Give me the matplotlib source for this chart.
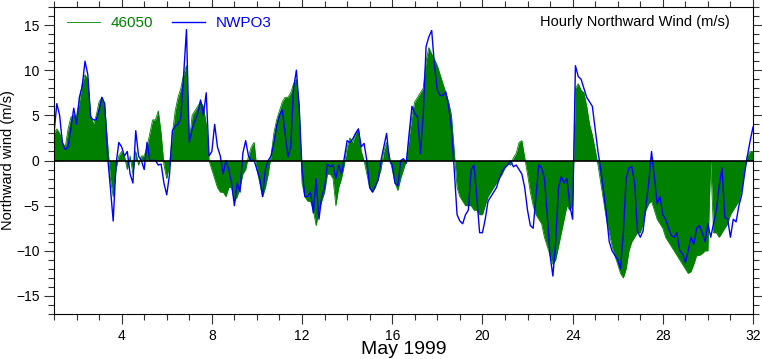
import numpy as np
import matplotlib
matplotlib.use("Agg")
import matplotlib.pyplot as plt
from matplotlib.ticker import MultipleLocator

plt.rcParams['font.family'] = ['Liberation Sans', 'DejaVu Sans']

# 3-hourly northward wind (m/s), May 1999
buoy_46050 = [
    3.0, 3.5, 3.0, 2.0, 1.5, 3.5, 4.8, 5.0,
    5.0, 6.5, 8.5, 9.5, 9.0, 5.0, 4.0, 5.0,
    6.5, 7.0, 6.0, 2.0, -2.0, -4.0, -1.0, 0.5,
    1.0, 0.5, -1.0, 0.5, -1.5, 1.0, -0.5, 0.5,
    0.5, 1.5, 3.0, 4.5, 4.5, 5.5, 3.0, -0.5,
    -2.0, -0.5, 3.0, 5.5, 7.0, 8.0, 9.5, 10.5,
    2.0, 5.0, 5.5, 6.0, 6.5, 6.0, 4.0, 0.0,
    -1.0, -2.0, -3.0, -3.5, -3.5, -4.0, -3.0, -3.0,
    -4.5, -4.0, -3.0, -1.5, -1.0, 0.5, 1.5, 2.0,
    -1.0, -2.5, -4.0, -3.0, -1.5, 0.5, 3.0, 4.5,
    5.5, 6.5, 7.0, 7.0, 7.5, 8.5, 9.0, 6.0,
    -2.5, -4.0, -4.5, -4.5, -5.5, -7.2, -5.5, -4.5,
    -3.5, -1.5, -1.5, -2.0, -5.0, -3.0, -2.0, -0.5,
    1.5, 2.5, 2.0, 3.0, 3.5, 1.0, 0.0, -1.5,
    -3.0, -3.5, -3.0, -2.0, -1.0, 1.0, 2.0, 0.5,
    -1.0, -2.5, -3.3, -2.0, -1.0, 0.0, 2.5, 5.0,
    6.5, 7.0, 7.5, 8.0, 11.0, 12.5, 11.8, 11.2,
    10.5, 9.5, 8.5, 7.5, 6.5, 5.0, 1.0, -3.0,
    -4.0, -4.5, -5.0, -5.0, -5.0, -5.5, -5.5, -6.0,
    -6.0, -5.0, -4.0, -3.5, -3.0, -2.5, -2.0, -1.5,
    -0.8, -0.4, -0.5, 0.3, 0.8, 2.0, 2.2, 0.3,
    -1.5, -3.5, -5.0, -6.0, -6.5, -7.0, -8.5, -9.5,
    -10.5, -11.5, -11.0, -9.5, -8.0, -6.5, -5.0, -5.5,
    -5.0, 8.0, 8.5, 7.8, 7.5, 6.0, 4.0, 2.8,
    1.2, -0.5, -2.5, -4.5, -6.5, -8.0, -9.5, -10.5,
    -11.5, -12.5, -13.0, -12.0, -10.0, -9.0, -8.5, -8.0,
    -8.0, -7.0, -5.5, -4.8, -4.5, -5.5, -6.5, -7.0,
    -7.5, -8.5, -9.0, -9.5, -10.0, -10.5, -11.0, -11.5,
    -12.0, -12.5, -12.3, -11.5, -10.5, -10.5, -10.3, -10.0,
    -10.0, 0.0, -8.0, -8.0, -8.5, -8.0, -7.5, -7.0,
    -6.0, -5.5, -5.0, -4.5, -3.0, -1.0, 0.5, 1.0, 1.0,
]

nwpo3 = [
    3.0, 6.3, 5.0, 1.9, 1.2, 1.5, 3.5, 5.8,
    4.0, 7.0, 8.2, 11.0, 9.5, 4.8, 4.5, 4.5,
    5.6, 7.0, 6.3, 0.5, -3.0, -6.7, -0.5, 2.0,
    1.5, 0.5, 1.0, -1.5, -2.5, 3.3, 0.5, 0.0,
    -1.0, 2.0, 0.0, 0.0, 0.0, -0.5, -0.4, -2.5,
    -3.8, -1.5, 3.3, 3.8, 4.0, 4.8, 9.5, 14.5,
    2.0, 3.5, 4.4, 5.2, 6.7, 5.0, 7.5, 0.5,
    1.0, 4.0, 1.5, 0.5, -1.5, 0.0, -1.0, -2.5,
    -5.0, -2.5, -3.5, 0.8, 2.2, 0.5, 0.0, 0.0,
    -1.0, -2.0, -4.0, -1.0, 0.0, 0.5, 1.9, 3.8,
    5.0, 5.6, 3.0, 0.4, 1.5, 8.0, 10.0, 5.9,
    -1.0, -4.0, -4.0, -3.5, -5.8, -2.0, -6.5, -4.0,
    -3.0, -0.4, -0.7, -0.5, -2.0, -0.5, -1.5, 0.3,
    2.2, 2.0, 2.4, 3.0, 3.5, 1.5, 1.9, 0.0,
    -3.0, -3.5, -2.8, -2.2, 0.0, 1.5, 3.0, 0.0,
    -0.5, -2.5, -2.8, 0.0, 0.2, -0.3, 3.0, 6.0,
    5.2, 4.8, 0.8, 5.0, 12.6, 13.7, 14.4, 10.5,
    7.8, 7.2, 7.2, 7.6, 6.0, 3.5, -1.0, -6.0,
    -6.7, -7.0, -6.0, -5.5, -1.0, -0.5, -4.0, -8.0,
    -8.0, -6.5, -4.5, -4.0, -3.5, -3.0, -2.0, -1.2,
    -0.8, -0.5, 0.0, -0.7, -0.5, -1.0, -1.5, -3.0,
    -5.5, -7.2, -7.5, -4.0, -0.5, -0.8, -2.0, -6.0,
    -10.5, -12.8, -9.0, -3.0, -1.8, -2.5, -2.0, -5.0,
    -6.5, 10.5, 9.3, 9.0, 8.0, 7.0, 6.5, 6.0,
    3.5, 1.0, -1.0, -3.5, -6.0, -9.0, -10.0, -10.5,
    -11.0, -12.0, -8.0, -2.0, -0.8, -0.7, -2.5, -7.8,
    -8.5, -7.8, -5.0, -2.5, 1.0, -1.8, -4.8, -4.0,
    -6.0, -6.5, -7.5, -8.3, -8.5, -8.0, -10.0, -10.3,
    -11.3, -10.0, -8.5, -9.3, -7.5, -7.2, -8.0, -9.0,
    -7.0, -8.5, -7.0, -5.5, -2.8, -0.8, -6.3, -6.5,
    -8.5, -6.5, -6.8, -5.0, -3.8, -1.5, 0.5, 2.2, 3.7,
]

day_ticks = [4, 8, 12, 16, 20, 24, 28, 32]
y_ticks = [-15, -10, -5, 0, 5, 10, 15]

# time axis in days of May, 3 h steps
t = 1 + np.arange(len(nwpo3)) * 3 / 24.0

fig = plt.figure(figsize=(7.62, 3.59), dpi=100)
ax = fig.add_axes([54 / 762, 1 - 314 / 359, 699 / 762, 307 / 359])

ax.fill_between(t, 0, buoy_46050, color="green", lw=0)
ax.plot(t, buoy_46050, color="green", lw=0.6, label="46050")
ax.plot(t, nwpo3, color="blue", lw=1.0, label="NWPO3")
ax.axhline(0, color="black", lw=1.2)

ax.set_xlim(1, 32)
ax.set_ylim(-17, 17)
ax.set_xticks(day_ticks)
ax.set_yticks(y_ticks)
ax.xaxis.set_minor_locator(MultipleLocator(1))
ax.yaxis.set_minor_locator(MultipleLocator(1))
ax.tick_params(which="both", direction="out", top=True, right=True,
               labelsize=10, width=0.8, color="#333333")
ax.tick_params(which="major", length=7)
ax.tick_params(which="minor", length=4)

ax.set_xlabel("May 1999", fontsize=14, labelpad=-1)
ax.set_ylabel("Northward wind (m/s)", fontsize=10.5, labelpad=1)

ax.text(0.967, 0.975, "Hourly Northward Wind (m/s)", transform=ax.transAxes,
        ha="right", va="top", fontsize=10.5)

ax.legend(loc="upper left", ncol=2, frameon=False, fontsize=11,
          labelcolor="linecolor", handlelength=2.2, handletextpad=0.7,
          columnspacing=1.2, borderaxespad=0.2, bbox_to_anchor=(0.005, 1.0))

fig.savefig("out.png", dpi=100)
